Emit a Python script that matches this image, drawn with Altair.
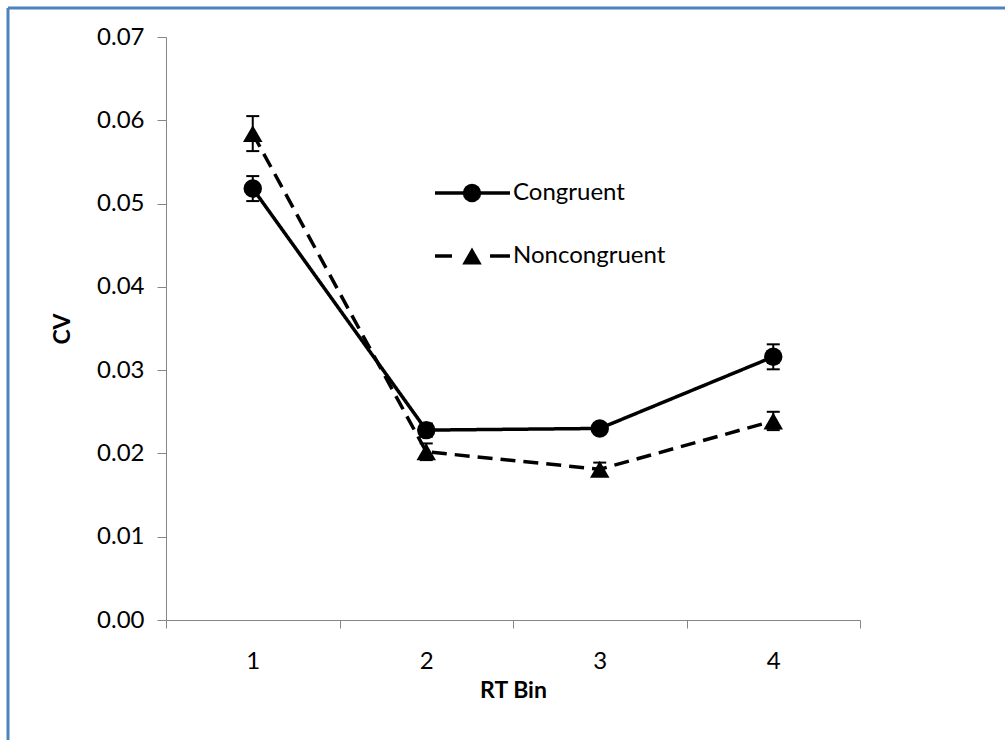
import altair as alt
import pandas as pd

bins = ["1", "2", "3", "4"]
series = ["Congruent", "Noncongruent"]
congruent = [0.0518, 0.0228, 0.0230, 0.0316]
congruent_err = [0.0015, 0.0008, 0.0006, 0.0015]
noncongruent = [0.0584, 0.0202, 0.0181, 0.0239]
noncongruent_err = [0.0021, 0.0010, 0.0008, 0.0011]
y_ticks = [0.00, 0.01, 0.02, 0.03, 0.04, 0.05, 0.06, 0.07]

rows = []
for name, vals, errs in [(series[0], congruent, congruent_err), (series[1], noncongruent, noncongruent_err)]:
    for b, v, e in zip(bins, vals, errs):
        rows.append({"bin": b, "series": name, "cv": v, "lo": v - e, "hi": v + e})
df = pd.DataFrame(rows)

FONT = "Lato"
W, H = 694, 583
PL, PT = 166, 37

x = alt.X("bin:O", title="RT Bin",
          scale=alt.Scale(domain=bins, paddingInner=0, paddingOuter=0),
          axis=alt.Axis(labelAngle=0, tickBand="extent", tickSize=8, labelPadding=21,
                        titlePadding=6, domainColor="#868686", tickColor="#868686",
                        labelColor="#000000", titleColor="#000000"))
y_scale = alt.Scale(domain=[0, 0.07], nice=False, zero=True)
y = alt.Y("cv:Q", title="CV", scale=y_scale,
          axis=alt.Axis(values=y_ticks, format=".2f", grid=False, tickSize=9, labelPadding=13,
                        titlePadding=22, domainColor="#868686", tickColor="#868686",
                        labelColor="#000000", titleColor="#000000"))

dash = alt.StrokeDash("series:N", scale=alt.Scale(domain=series, range=[[1, 0], [15, 8]]), legend=None)
shape = alt.Shape("series:N", scale=alt.Scale(domain=series, range=["circle", "triangle-up"]), legend=None)
size = alt.Size("series:N", scale=alt.Scale(domain=series, range=[340, 380]), legend=None)

base = alt.Chart(df)
lines = base.mark_line(color="black", strokeWidth=3.5).encode(x=x, y=y, strokeDash=dash, detail="series:N")
bars = base.mark_rule(color="black", strokeWidth=2, opacity=1).encode(x=x, y=alt.Y("lo:Q", scale=y_scale), y2="hi:Q")
cap_lo = base.mark_tick(color="black", size=13, thickness=2, opacity=1).encode(x=x, y=alt.Y("lo:Q", scale=y_scale))
cap_hi = base.mark_tick(color="black", size=13, thickness=2, opacity=1).encode(x=x, y=alt.Y("hi:Q", scale=y_scale))
points = base.mark_point(filled=True, color="black", opacity=1).encode(x=x, y=y, shape=shape, size=size)

# manual legend inside the plot
leg_df = pd.DataFrame({"label": series})
lx0, lx1, lmid = 435 - PL, 510 - PL, 472 - PL
ly = [193 - PT, 256 - PT]
leg = []
leg.append(alt.Chart(leg_df).transform_filter(alt.datum.label == series[0]).mark_rule(color="black", strokeWidth=3.5)
           .encode(x=alt.value(lx0), x2=alt.value(lx1), y=alt.value(ly[0])))
leg.append(alt.Chart(leg_df).transform_filter(alt.datum.label == series[0]).mark_point(shape="circle", filled=True, color="black", opacity=1, size=340)
           .encode(x=alt.value(lmid), y=alt.value(ly[0])))
leg.append(alt.Chart(leg_df).transform_filter(alt.datum.label == series[1]).mark_rule(color="black", strokeWidth=3.5)
           .encode(x=alt.value(lx0), x2=alt.value(452 - PL), y=alt.value(ly[1])))
leg.append(alt.Chart(leg_df).transform_filter(alt.datum.label == series[1]).mark_rule(color="black", strokeWidth=3.5)
           .encode(x=alt.value(490 - PL), x2=alt.value(lx1), y=alt.value(ly[1])))
leg.append(alt.Chart(leg_df).transform_filter(alt.datum.label == series[1]).mark_point(shape="triangle-up", filled=True, color="black", opacity=1, size=380)
           .encode(x=alt.value(lmid), y=alt.value(ly[1])))
for i, s in enumerate(series):
    leg.append(alt.Chart(leg_df).transform_filter(alt.datum.label == s)
               .mark_text(align="left", baseline="middle", font=FONT, fontSize=24, color="black")
               .encode(x=alt.value(513 - PL), y=alt.value(ly[i]), text="label:N"))

# outer chart border (blue frame, Excel style)
frame_top = alt.Chart(leg_df.head(1)).mark_rule(color="#4f81bd", strokeWidth=3).encode(
    x=alt.value(8 - PL), x2=alt.value(1100), y=alt.value(8 - PT))
frame_left = alt.Chart(leg_df.head(1)).mark_rule(color="#4f81bd", strokeWidth=3).encode(
    x=alt.value(8 - PL), y=alt.value(8 - PT), y2=alt.value(900))

chart = alt.layer(lines, bars, cap_lo, cap_hi, points, *leg, frame_top, frame_left).properties(
    width=W, height=H,
    autosize=alt.AutoSizeParams(type="none"),
    padding={"left": PL, "top": PT, "right": 1005 - PL - W, "bottom": 740 - PT - H},
    background="white",
).configure_view(stroke=None).configure_axis(
    labelFont=FONT, labelFontSize=24, titleFont=FONT, titleFontSize=23, titleFontWeight="bold"
)

chart.save("out.html", embed_options={"renderer": "svg", "actions": False})
